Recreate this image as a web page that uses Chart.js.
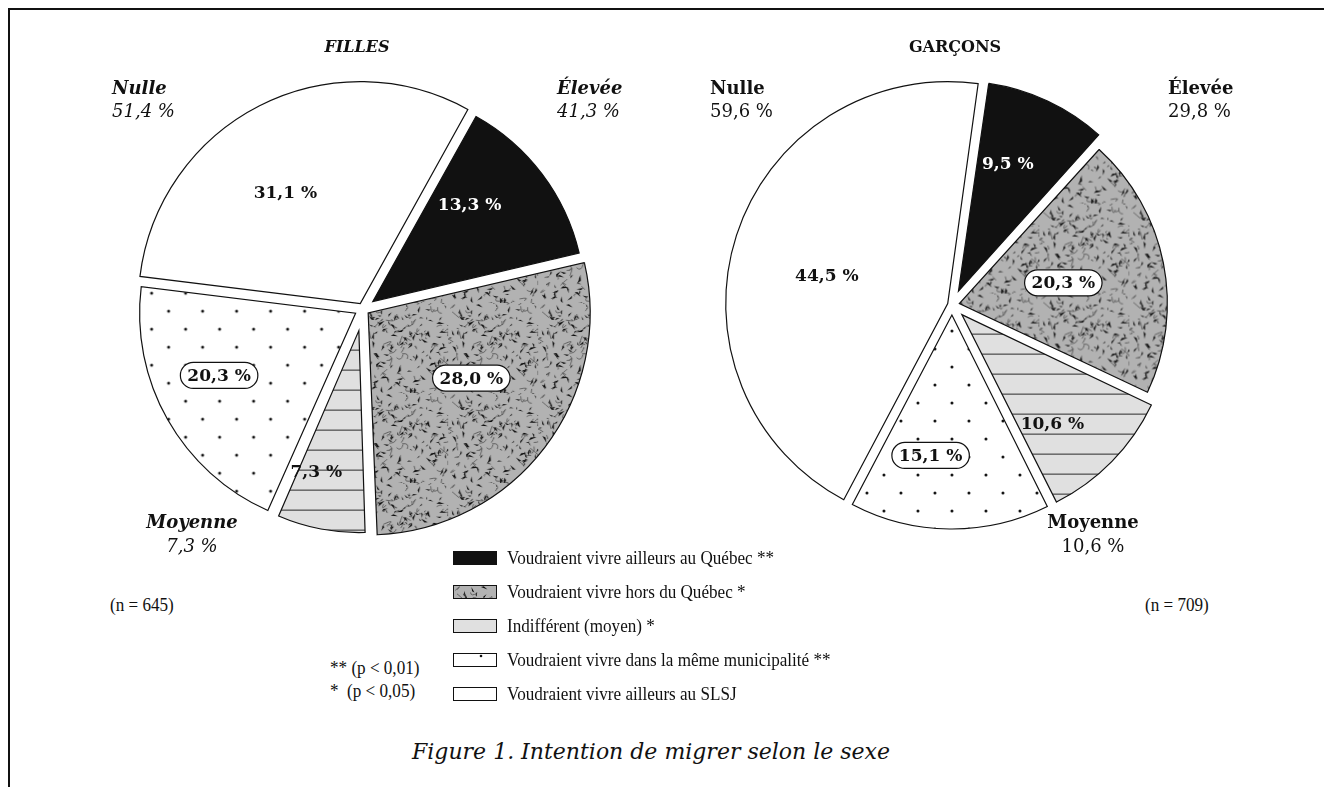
<!DOCTYPE html>
<html>
<head>
<meta charset="utf-8">
<script src="https://cdn.jsdelivr.net/npm/chart.js@4.4.1/dist/chart.umd.min.js"></script>
<style>
  html, body { margin: 0; padding: 0; background: #fff; }
  #page { position: relative; width: 1324px; height: 787px; overflow: hidden; }
  .frame-top { position: absolute; left: 8px; top: 8px; width: 1316px; height: 2px; background: #111; }
  .frame-left { position: absolute; left: 8px; top: 8px; width: 2px; height: 779px; background: #111; }
  canvas.pie { position: absolute; }
  .t { position: absolute; white-space: pre; line-height: 22px; color: #111; }
  .pie-lbl { font-family: "DejaVu Serif", serif; font-size: 18px; }
  .it { font-style: italic; }
  .b { font-weight: bold; }
  .title { font-family: "DejaVu Serif", serif; font-size: 16px; font-weight: bold; }
  .legend { font-family: "Liberation Serif", serif; font-size: 19px; transform: scaleX(0.9); transform-origin: left center; }
  .caption { font-family: "DejaVu Serif", serif; font-style: italic; font-size: 22px; }
  .sw { position: absolute; }
</style>
</head>
<body>
<div id="page">
  <div class="frame-top"></div>
  <div class="frame-left"></div>
  <canvas id="pieFilles" class="pie" width="560" height="560" style="left:83px; top:29px;"></canvas>
  <canvas id="pieGarcons" class="pie" width="560" height="560" style="left:672px; top:25px;"></canvas>
  <div id="texts"></div>
</div>
<script>
// categories (same order for both pies, clockwise from the rotation angle)
const categories = [
  "Voudraient vivre ailleurs au Québec **",
  "Voudraient vivre hors du Québec *",
  "Indifférent (moyen) *",
  "Voudraient vivre dans la même municipalité **",
  "Voudraient vivre ailleurs au SLSJ"
];
const fillesValues = [13.3, 28.0, 7.3, 20.3, 31.1];
const garconsValues = [9.5, 20.3, 10.6, 15.1, 44.5];
const fillesN = 645;
const garconsN = 709;

function fmt(v) {
  return v.toFixed(1).replace(".", ",") + " %";
}

// ---- patterns ----
function makeSpeckle() {
  const c = document.createElement("canvas");
  c.width = 90; c.height = 90;
  const g = c.getContext("2d");
  g.fillStyle = "#b2b2b2";
  g.fillRect(0, 0, 90, 90);
  let seed = 11;
  const rnd = () => { seed = (seed * 16807) % 2147483647; return seed / 2147483647; };
  g.strokeStyle = "#5a5a5a";
  g.lineWidth = 0.9;
  for (let i = 0; i < 70; i++) {
    const x = rnd() * 90, y = rnd() * 90;
    g.beginPath();
    g.moveTo(x, y);
    g.quadraticCurveTo(x + (rnd() - 0.5) * 16, y + (rnd() - 0.5) * 16, x + (rnd() - 0.5) * 14, y + (rnd() - 0.5) * 14);
    g.stroke();
  }
  g.fillStyle = "#0d0d0d";
  for (let i = 0; i < 140; i++) {
    const x = rnd() * 90, y = rnd() * 90, s = 2 + rnd() * 4;
    const a = rnd() * Math.PI * 2;
    g.beginPath();
    g.moveTo(x, y);
    g.lineTo(x + Math.cos(a) * s, y + Math.sin(a) * s);
    g.lineTo(x + Math.cos(a + 2.2) * s * 0.6, y + Math.sin(a + 2.2) * s * 0.6);
    g.closePath();
    g.fill();
  }
  return c;
}

function makeStripes() {
  const c = document.createElement("canvas");
  c.width = 20; c.height = 20;
  const g = c.getContext("2d");
  g.fillStyle = "#e0e0e0";
  g.fillRect(0, 0, 20, 20);
  g.fillStyle = "#2a2a2a";
  g.fillRect(0, 19, 20, 1);
  return c;
}

function makeDots() {
  const c = document.createElement("canvas");
  c.width = 34; c.height = 36;
  const g = c.getContext("2d");
  g.fillStyle = "#fff";
  g.fillRect(0, 0, 34, 36);
  g.fillStyle = "#111";
  [[8, 8], [25, 26]].forEach(([x, y]) => {
    g.beginPath(); g.arc(x, y, 1.5, 0, Math.PI * 2); g.fill();
  });
  return c;
}

const speckleTile = makeSpeckle();
const stripeTile = makeStripes();
const dotTile = makeDots();

function fills(ctx) {
  return [
    "#111111",
    ctx.createPattern(speckleTile, "repeat"),
    ctx.createPattern(stripeTile, "repeat"),
    ctx.createPattern(dotTile, "repeat"),
    "#ffffff"
  ];
}

// per-slice radius (the exploded slices of the original are not all the same size)
const sliceRadius = {
  id: "sliceRadius",
  beforeDatasetDraw(chart, args, opts) {
    args.meta.data.forEach((arc, i) => {
      const t = (arc.options.offset || 0) / 4;
      const fix = 1 - Math.sin(Math.min(Math.PI, arc.circumference));
      arc.outerRadius = opts.radii[i] - t * fix;
    });
  }
};

// labels inside the slices
const sliceLabels = {
  id: "sliceLabels",
  afterDatasetsDraw(chart, args, opts) {
    const ctx = chart.ctx;
    const meta = chart.getDatasetMeta(0);
    const values = chart.data.datasets[0].data;
    ctx.save();
    ctx.font = 'bold 17px "DejaVu Serif"';
    ctx.textAlign = "center";
    ctx.textBaseline = "middle";
    meta.data.forEach((arc, i) => {
      const t = (arc.options.offset || 0) / 4;
      const mid = (arc.startAngle + arc.endAngle) / 2;
      const a = mid + opts.shift[i] * Math.PI / 180;
      const x = arc.x + Math.cos(mid) * t + Math.cos(a) * opts.dist[i];
      const y = arc.y + Math.sin(mid) * t + Math.sin(a) * opts.dist[i];
      const text = fmt(values[i]);
      if (opts.boxed[i]) {
        const w = ctx.measureText(text).width + 14, h = 26;
        ctx.beginPath();
        ctx.roundRect(x - w / 2, y - h / 2, w, h, h / 2);
        ctx.fillStyle = "#fff";
        ctx.fill();
        ctx.lineWidth = 1.2;
        ctx.strokeStyle = "#111";
        ctx.stroke();
      }
      ctx.fillStyle = i === 0 ? "#fff" : "#111";
      ctx.fillText(text, x, y + 1);
    });
    ctx.restore();
  }
};

function makePie(id, values, rotation, offsets, radii, labelOpts) {
  const ctx = document.getElementById(id).getContext("2d");
  return new Chart(ctx, {
    type: "pie",
    data: {
      labels: categories,
      datasets: [{
        data: values,
        backgroundColor: fills(ctx),
        borderColor: "#111",
        borderWidth: 1.2,
        borderJoinStyle: "miter",
        offset: offsets,
        hoverOffset: 0
      }]
    },
    options: {
      responsive: false,
      animation: false,
      events: [],
      rotation: rotation,
      radius: 216,
      layout: { padding: 0 },
      plugins: {
        legend: { display: false },
        tooltip: { enabled: false },
        sliceRadius: { radii: radii },
        sliceLabels: labelOpts
      }
    },
    plugins: [sliceRadius, sliceLabels]
  });
}

makePie("pieFilles", fillesValues, 29, [49, 26, 88, 34, 24], [212, 222, 202, 216, 222], {
  dist: [137, 122, 147, 150, 134],
  shift: [-8, -5, 6, 5, -7],
  boxed: [false, true, false, true, false]
});
makePie("pieGarcons", garconsValues, 8, [61, 30, 55, 40, 18], [210, 208, 210, 214, 222], {
  dist: [137, 106, 142, 142, 124],
  shift: [-4, 0, 6, 8, -5],
  boxed: [false, true, false, true, false]
});

// ---- text around the pies ----
const texts = document.getElementById("texts");
function addText(txt, cls, left, cy, align) {
  const d = document.createElement("div");
  d.className = "t " + cls;
  d.textContent = txt;
  d.style.top = (cy - 11) + "px";
  if (align === "center") {
    d.style.left = (left - 300) + "px";
    d.style.width = "600px";
    d.style.textAlign = "center";
  } else {
    d.style.left = left + "px";
  }
  texts.appendChild(d);
  return d;
}

const sum = (arr, a, b) => arr.slice(a, b).reduce((s, v) => s + v, 0);

addText("FILLES", "title it", 357, 47, "center");
addText("GARÇONS", "title", 955, 47, "center");

addText("Nulle", "pie-lbl it b", 112, 88);
addText(fmt(sum(fillesValues, 3, 5)), "pie-lbl it", 112, 111);
addText("Élevée", "pie-lbl it b", 557, 88);
addText(fmt(sum(fillesValues, 0, 2)), "pie-lbl it", 557, 111);
addText("Moyenne", "pie-lbl it b", 192, 522, "center");
addText(fmt(fillesValues[2]), "pie-lbl it", 192, 546, "center");

addText("Nulle", "pie-lbl b", 710, 88);
addText(fmt(sum(garconsValues, 3, 5)), "pie-lbl", 710, 111);
addText("Élevée", "pie-lbl b", 1168, 88);
addText(fmt(sum(garconsValues, 0, 2)), "pie-lbl", 1168, 111);
addText("Moyenne", "pie-lbl b", 1093, 522, "center");
addText(fmt(garconsValues[2]), "pie-lbl", 1093, 546, "center");

addText("(n = " + fillesN + ")", "legend", 110, 605);
addText("(n = " + garconsN + ")", "legend", 1145, 605);

// legend
const rowY = [558, 592, 626, 660, 694];
categories.forEach((cat, i) => {
  const c = document.createElement("canvas");
  c.className = "sw";
  c.width = 44; c.height = 14;
  c.style.left = "453px";
  c.style.top = (rowY[i] - 7) + "px";
  const g = c.getContext("2d");
  const f = fills(g);
  g.fillStyle = i === 2 ? "#e0e0e0" : (i === 3 ? "#fff" : f[i]);
  g.fillRect(0, 0, 44, 14);
  if (i === 3) {
    g.fillStyle = "#111";
    g.beginPath(); g.arc(28, 3, 1.3, 0, Math.PI * 2); g.fill();
  }
  g.strokeStyle = "#111";
  g.lineWidth = 1;
  g.strokeRect(0.5, 0.5, 43, 13);
  texts.appendChild(c);
  addText(cat, "legend", 507, rowY[i]);
});

addText("** (p < 0,01)", "legend", 330, 668);
addText("*  (p < 0,05)", "legend", 330, 691);

addText("Figure 1. Intention de migrer selon le sexe", "caption", 651, 752, "center");
</script>
</body>
</html>
